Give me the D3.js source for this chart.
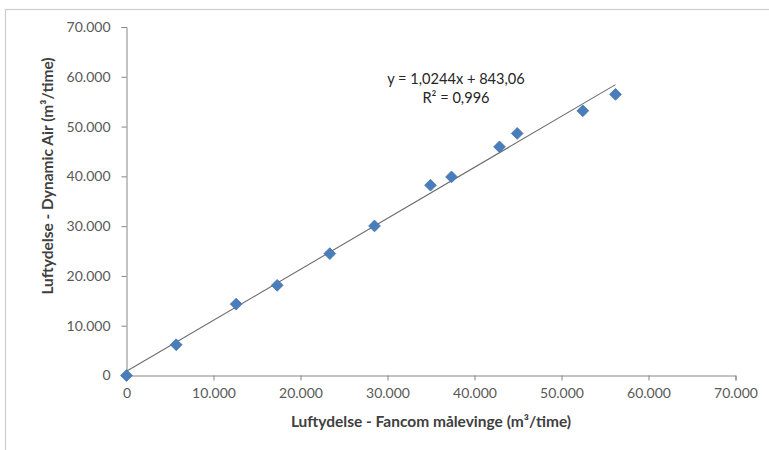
<!DOCTYPE html>
<html>
<head>
<meta charset="utf-8">
<script src="https://cdn.jsdelivr.net/npm/d3@7"></script>
<style>
  html, body { margin: 0; padding: 0; background: #fff; }
  svg { display: block; }
  .tick text { font-family: Lato, "Open Sans", sans-serif; font-size: 14px; fill: #595959; }
  .axis path, .axis line { stroke: #868686; }
</style>
</head>
<body>
<svg id="chart" width="769" height="450"></svg>
<script>
// Measured airflow: Fancom measuring wing (x) vs Dynamic Air (y), m³/time
const fancom = [0, 5713, 12609, 17322, 23368, 28506, 34943, 37356, 42874, 44908, 52448, 56207];
const dynamicAir = [0, 6176, 14343, 18105, 24482, 30034, 38222, 39891, 45926, 48622, 53168, 56467];

// Linear trendline reported with the chart
const trendSlope = 1.0244;
const trendIntercept = 843.06;
const equationLines = ["y = 1,0244x + 843,06", "R² = 0,996"];

const axisTicks = [0, 10000, 20000, 30000, 40000, 50000, 60000, 70000];
const xTitle = "Luftydelse - Fancom målevinge (m³/time)";
const yTitle = "Luftydelse - Dynamic Air (m³/time)";

const svg = d3.select("#chart");
const W = 769, H = 450;
const plot = { left: 126.5, right: 735.5, top: 27, bottom: 375.5 };

// Outer chart frame (continues beyond the right and bottom edges)
svg.append("rect")
  .attr("x", 5.5).attr("y", 9.5)
  .attr("width", W).attr("height", H)
  .attr("fill", "none").attr("stroke", "#cdcdcd").attr("stroke-width", 1.2);

const x = d3.scaleLinear().domain([0, 70000]).range([plot.left, plot.right]);
const y = d3.scaleLinear().domain([0, 70000]).range([plot.bottom, plot.top]);

// Danish number formatting: dot as thousands separator
const fmt = d => d === 0 ? "0" : d3.format(",")(d).replace(/,/g, ".");

const xAxis = svg.append("g").attr("class", "axis")
  .attr("transform", `translate(0,${plot.bottom})`)
  .call(d3.axisBottom(x).tickValues(axisTicks).tickFormat(fmt).tickSizeOuter(0).tickSize(5).tickPadding(8));
const yAxis = svg.append("g").attr("class", "axis")
  .attr("transform", `translate(${plot.left},0)`)
  .call(d3.axisLeft(y).tickValues(axisTicks).tickFormat(fmt).tickSizeOuter(0).tickSize(5).tickPadding(11));
[xAxis, yAxis].forEach(g => g.select(".domain").attr("stroke", "#868686"));

// Trendline over the range of measured x values
const xMax = d3.max(fancom);
svg.append("line")
  .attr("x1", x(0)).attr("y1", y(trendIntercept))
  .attr("x2", x(xMax)).attr("y2", y(trendSlope * xMax + trendIntercept))
  .attr("stroke", "#6e6e6e").attr("stroke-width", 1.1);

// Diamond markers
const diamond = d3.symbol().type(d3.symbolDiamond2).size(88);
svg.append("g").selectAll("path")
  .data(fancom.map((v, i) => [v, dynamicAir[i]]))
  .join("path")
  .attr("d", diamond)
  .attr("transform", d => `translate(${x(d[0])},${y(d[1])})`)
  .attr("fill", "#4a7ebb").attr("stroke", "#3f72b0").attr("stroke-width", 0.8);

// Trendline equation label
const eq = svg.append("text")
  .attr("font-family", "Lato, 'Open Sans', sans-serif").attr("font-size", 14.6)
  .attr("fill", "#262626").attr("text-anchor", "middle");
equationLines.forEach((t, i) => {
  eq.append("tspan").attr("x", 456).attr("y", 84 + i * 19).text(t);
});

// Axis titles
svg.append("text")
  .attr("x", (plot.left + plot.right) / 2).attr("y", 427)
  .attr("text-anchor", "middle")
  .attr("font-family", "Lato, 'Open Sans', sans-serif").attr("font-size", 15.5).attr("font-weight", "bold")
  .attr("fill", "#404040")
  .text(xTitle);
svg.append("text")
  .attr("transform", `translate(53,176) rotate(-90)`)
  .attr("text-anchor", "middle")
  .attr("font-family", "Lato, 'Open Sans', sans-serif").attr("font-size", 15.5).attr("font-weight", "bold")
  .attr("fill", "#404040")
  .text(yTitle);
</script>
</body>
</html>
